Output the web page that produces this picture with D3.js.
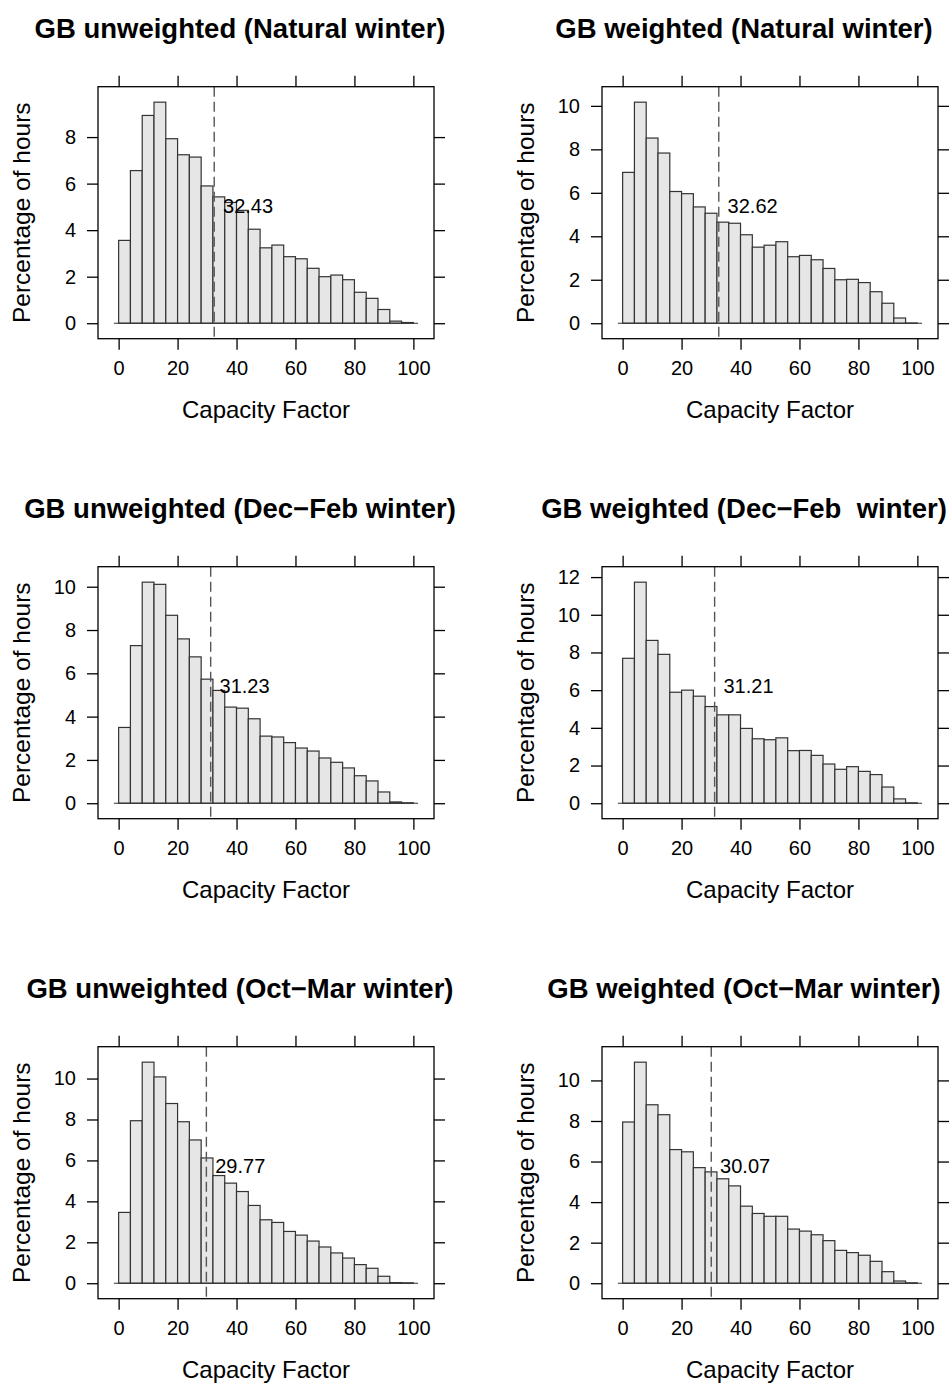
<!DOCTYPE html>
<html>
<head>
<meta charset="utf-8">
<script src="https://cdn.jsdelivr.net/npm/d3@7"></script>
<style>
  html, body { margin: 0; padding: 0; background: #fff; }
  svg { display: block; font-family: "Liberation Sans", Arial, Helvetica, sans-serif; }
</style>
</head>
<body>
<div id="chart"></div>
<script>
// ---- Data ----
const breaks = [0, 4, 8, 12, 16, 20, 24, 28, 32, 36, 40, 44, 48, 52, 56, 60, 64, 68, 72, 76, 80, 84, 88, 92, 96, 100];

const unweightedNatural = [3.56, 6.56, 8.93, 9.50, 7.93, 7.24, 7.14, 5.90, 5.43, 5.19, 4.85, 4.04, 3.24, 3.36, 2.86, 2.77, 2.36, 2.00, 2.07, 1.87, 1.33, 1.07, 0.59, 0.09, 0.03];
const weightedNatural   = [6.94, 10.17, 8.52, 7.83, 6.06, 5.96, 5.35, 5.06, 4.65, 4.60, 4.07, 3.50, 3.59, 3.75, 3.06, 3.12, 2.92, 2.52, 2.00, 2.02, 1.87, 1.45, 0.92, 0.24, 0.01];
const unweightedDecFeb  = [3.50, 7.28, 10.21, 10.11, 8.68, 7.59, 6.76, 5.73, 5.21, 4.44, 4.39, 3.90, 3.10, 3.06, 2.80, 2.55, 2.41, 2.09, 1.89, 1.63, 1.27, 1.03, 0.52, 0.06, 0.02];
const weightedDecFeb    = [7.69, 11.73, 8.64, 7.90, 5.89, 6.00, 5.68, 5.13, 4.69, 4.69, 3.97, 3.42, 3.37, 3.47, 2.79, 2.80, 2.54, 2.08, 1.80, 1.94, 1.69, 1.52, 0.86, 0.23, 0.02];
const unweightedOctMar  = [3.46, 7.94, 10.80, 10.08, 8.78, 7.89, 7.00, 6.12, 5.26, 4.89, 4.48, 3.80, 3.10, 2.97, 2.53, 2.35, 2.06, 1.77, 1.48, 1.23, 0.91, 0.73, 0.34, 0.03, 0.02];
const weightedOctMar    = [7.95, 10.90, 8.80, 8.31, 6.59, 6.48, 5.70, 5.49, 5.15, 4.80, 3.80, 3.44, 3.30, 3.30, 2.67, 2.57, 2.39, 2.10, 1.62, 1.51, 1.38, 1.08, 0.57, 0.11, 0.02];

const titles = [
  "GB unweighted (Natural winter)", "GB weighted (Natural winter)",
  "GB unweighted (Dec\u2212Feb winter)", "GB weighted (Dec\u2212Feb  winter)",
  "GB unweighted (Oct\u2212Mar winter)", "GB weighted (Oct\u2212Mar winter)"
];
const means = [32.43, 32.62, 31.23, 31.21, 29.77, 30.07];
const meanLabels = ["32.43", "32.62", "31.23", "31.21", "29.77", "30.07"];
const xTicks = [0, 20, 40, 60, 80, 100];
const yTicksList = [
  [0, 2, 4, 6, 8],
  [0, 2, 4, 6, 8, 10],
  [0, 2, 4, 6, 8, 10],
  [0, 2, 4, 6, 8, 10, 12],
  [0, 2, 4, 6, 8, 10],
  [0, 2, 4, 6, 8, 10]
];
const seriesList = [unweightedNatural, weightedNatural, unweightedDecFeb, weightedDecFeb, unweightedOctMar, weightedOctMar];
const xLabel = "Capacity Factor";
const yLabel = "Percentage of hours";
const xDomain = [-7, 107];
const baselineExtent = [-1.6, 101.6];

// ---- Layout ----
const W = 951, H = 1385;
const svg = d3.select("#chart").append("svg").attr("width", W).attr("height", H);

const boxW = 336, boxH = 252;
const originX = 98, originY = 86.7;
const colStep = 504, rowStep = 480;
const tickLen = 11;

seriesList.forEach((vals, i) => {
  const col = i % 2, row = Math.floor(i / 2);
  const left = originX + col * colStep;
  const top = originY + row * rowStep;
  const g = svg.append("g").attr("transform", `translate(${left},${top})`);

  const maxV = d3.max(vals);
  const yDomain = [-0.07 * maxV, 1.07 * maxV];
  const x = d3.scaleLinear().domain(xDomain).range([0, boxW]);
  const y = d3.scaleLinear().domain(yDomain).range([boxH, 0]);

  // bars
  const bins = vals.map((v, k) => ({ x0: breaks[k], x1: breaks[k + 1], v }));
  g.append("g").selectAll("rect").data(bins).join("rect")
    .attr("x", d => x(d.x0))
    .attr("width", d => x(d.x1) - x(d.x0))
    .attr("y", d => y(d.v))
    .attr("height", d => y(0) - y(d.v))
    .attr("fill", "#e6e6e6")
    .attr("stroke", "#333")
    .attr("stroke-width", 1.2);

  // baseline
  g.append("line")
    .attr("x1", x(baselineExtent[0])).attr("x2", x(baselineExtent[1]))
    .attr("y1", y(0)).attr("y2", y(0))
    .attr("stroke", "#333").attr("stroke-width", 1.2);

  // dashed mean line
  g.append("line")
    .attr("x1", x(means[i])).attr("x2", x(means[i]))
    .attr("y1", 0).attr("y2", boxH)
    .attr("stroke", "#555").attr("stroke-width", 1.4)
    .attr("stroke-dasharray", "10,5");

  // mean label
  g.append("text")
    .attr("x", x(means[i] + 3))
    .attr("y", y(d3.mean(yDomain)))
    .attr("font-size", 20)
    .attr("fill", "#000")
    .text(meanLabels[i]);

  // frame
  g.append("rect").attr("x", 0).attr("y", 0).attr("width", boxW).attr("height", boxH)
    .attr("fill", "none").attr("stroke", "#000").attr("stroke-width", 1.3);

  // axes
  const yTicks = yTicksList[i];
  const axB = d3.axisBottom(x).tickValues(xTicks).tickSize(tickLen).tickPadding(11).tickFormat(d3.format("d"));
  const axT = d3.axisTop(x).tickValues(xTicks).tickSize(tickLen).tickFormat("");
  const axL = d3.axisLeft(y).tickValues(yTicks).tickSize(tickLen).tickPadding(11).tickFormat(d3.format("d"));
  const axR = d3.axisRight(y).tickValues(yTicks).tickSize(tickLen).tickFormat("");

  const styleAxis = sel => {
    sel.select(".domain").remove();
    sel.selectAll(".tick line").attr("stroke", "#000").attr("stroke-width", 1.3);
    sel.selectAll(".tick text").attr("font-size", 20).attr("fill", "#000")
      .attr("font-family", "Liberation Sans, Arial, sans-serif");
  };
  g.append("g").attr("transform", `translate(0,${boxH})`).call(axB).call(styleAxis);
  g.append("g").call(axT).call(styleAxis);
  g.append("g").call(axL).call(styleAxis);
  g.append("g").attr("transform", `translate(${boxW},0)`).call(axR).call(styleAxis);

  // axis labels
  g.append("text")
    .attr("x", boxW / 2).attr("y", boxH + 79)
    .attr("text-anchor", "middle").attr("font-size", 24).attr("fill", "#000")
    .text(xLabel);
  g.append("text")
    .attr("transform", `translate(${30 - 98},${boxH / 2}) rotate(-90)`)
    .attr("text-anchor", "middle").attr("font-size", 24.5).attr("fill", "#000")
    .text(yLabel);

  // title
  g.append("text")
    .attr("x", 240 - 98).attr("y", -48.7)
    .attr("text-anchor", "middle").attr("font-size", 27.5).attr("font-weight", "bold")
    .attr("fill", "#000").style("white-space", "pre")
    .text(titles[i]);
});
</script>
</body>
</html>
